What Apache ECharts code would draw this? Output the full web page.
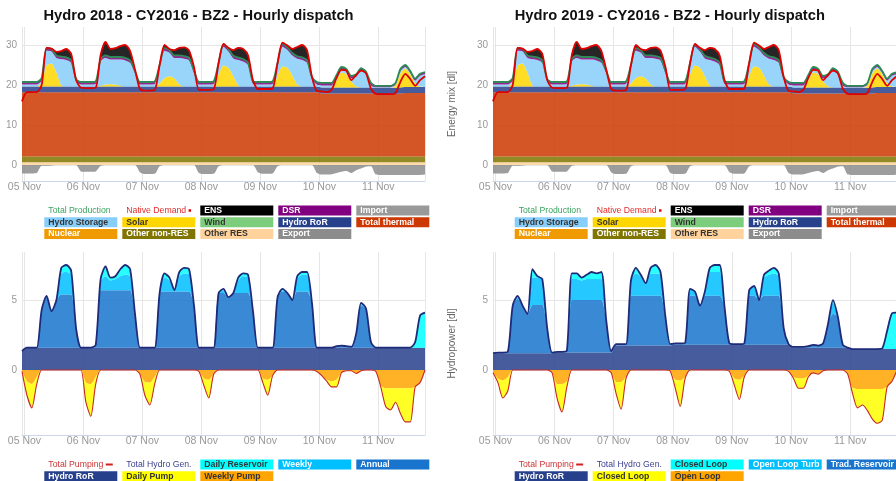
<!DOCTYPE html>
<html>
<head>
<meta charset="utf-8">
<script src="https://cdn.jsdelivr.net/npm/echarts@6/dist/echarts.min.js"></script>
<style>
  html, body { margin: 0; padding: 0; background: #ffffff; }
  #chart { width: 896px; height: 481px; }
</style>
</head>
<body>
<div id="chart"></div>
<script>
// ---------- time grid (hours from 05 Nov 00:00, two-hourly samples) ----------
const hours = [-1,1,3,5,7,9,11,13,15,17,19,21,23,
  25,27,29,31,33,35,37,39,41,43,45,47,
  49,51,53,55,57,59,61,63,65,67,69,71,
  73,75,77,79,81,83,85,87,89,91,93,95,
  97,99,101,103,105,107,109,111,113,115,117,119,
  121,123,125,127,129,131,133,135,137,139,141,143,
  145,147,149,151,153,155,157,159,161,163];

const dayLabels = ['05 Nov', '06 Nov', '07 Nov', '08 Nov', '09 Nov', '10 Nov', '11 Nov'];
const mixTicks = [0, 10, 20, 30];
const hydroTicks = [0, 5];

// ---------- energy mix (shared by both scenarios) ----------
const otherRes = [0.7,0.7,0.7,0.7,0.7,0.7,0.7,0.7,0.7,0.7,0.7,0.7,0.7,
  0.7,0.7,0.7,0.7,0.7,0.7,0.7,0.7,0.7,0.7,0.7,0.7,
  0.7,0.7,0.7,0.7,0.7,0.7,0.7,0.7,0.7,0.7,0.7,0.7,
  0.7,0.7,0.7,0.7,0.7,0.7,0.7,0.7,0.7,0.7,0.7,0.7,
  0.7,0.7,0.7,0.7,0.7,0.7,0.7,0.7,0.7,0.7,0.7,0.7,
  0.7,0.7,0.7,0.7,0.7,0.7,0.7,0.7,0.7,0.7,0.7,0.7,
  0.7,0.7,0.7,0.7,0.7,0.7,0.7,0.7,0.7,0.7];
const otherNonRes = [1.4,1.4,1.4,1.4,1.4,1.4,1.4,1.4,1.4,1.4,1.4,1.4,1.4,
  1.4,1.4,1.4,1.4,1.4,1.4,1.4,1.4,1.4,1.4,1.4,1.4,
  1.4,1.4,1.4,1.4,1.4,1.4,1.4,1.4,1.4,1.4,1.4,1.4,
  1.4,1.4,1.4,1.4,1.4,1.4,1.4,1.4,1.4,1.4,1.4,1.4,
  1.4,1.4,1.4,1.4,1.4,1.4,1.4,1.4,1.4,1.4,1.4,1.4,
  1.4,1.4,1.4,1.4,1.4,1.4,1.4,1.4,1.4,1.4,1.4,1.4,
  1.4,1.4,1.4,1.4,1.4,1.4,1.4,1.4,1.4,1.4];
const nuclear = [0,0,0,0,0,0,0,0,0,0,0,0,0,
  0,0,0,0,0,0,0,0,0,0,0,0,
  0,0,0,0,0,0,0,0,0,0,0,0,
  0,0,0,0,0,0,0,0,0,0,0,0,
  0,0,0,0,0,0,0,0,0,0,0,0,
  0,0,0,0,0,0,0,0,0,0,0,0,
  0,0,0,0,0,0,0,0,0,0];
const thermal = [16.1,16.1,16.1,16.1,16.1,16.1,16.1,16.1,16.1,16.1,16.1,16.1,16.1,
  16.1,16.1,16.1,16.1,16.1,16.1,16.1,16.1,16.1,16.1,16.1,16.1,
  16.1,16.1,16.1,16.1,16.1,16.1,16.1,16.1,16.1,16.1,16.1,16.1,
  16.1,16.1,16.1,16.1,16.1,16.1,16.1,16.1,16.1,16.1,16.1,16.1,
  16.1,16.1,16.1,16.1,16.1,16.1,16.1,16.1,16.1,16.1,16.1,16.1,
  15.8,15.8,15.8,15.8,15.8,15.8,15.8,15.8,15.8,15.8,15.8,15.65,
  15.65,15.65,15.65,15.7,15.8,15.9,15.9,15.9,15.9,15.9];
const rorMix = [1.4,1.4,1.4,1.4,1.4,1.4,1.4,1.4,1.4,1.4,1.4,1.4,1.4,
  1.4,1.4,1.4,1.4,1.4,1.4,1.4,1.4,1.4,1.4,1.4,1.4,
  1.4,1.4,1.4,1.4,1.4,1.4,1.4,1.4,1.4,1.4,1.4,1.4,
  1.4,1.4,1.4,1.4,1.4,1.4,1.4,1.4,1.4,1.4,1.4,1.4,
  1.4,1.4,1.4,1.4,1.4,1.4,1.4,1.4,1.4,1.4,1.4,1.4,
  1.5,1.5,1.5,1.5,1.5,1.5,1.5,1.5,1.5,1.5,1.5,1.5,
  1.5,1.5,1.5,1.5,1.5,1.5,1.5,1.5,1.5,1.5];
const wind = [0,0,0,0,0,0,0,0,0,0,0,0,0,
  0,0,0,0,0,0,0,0,0,0,0,0,
  0,0,0,0,0,0,0,0,0,0,0,0,
  0,0,0,0,0,0,0,0,0,0,0,0,
  0,0,0,0,0,0,0,0,0,0,0,0,
  0,0,0,0,0,0,0,0,0,0,0,0,
  0,0,0,0,0,0,0,0,0,0];
const solar = [0,0,0,0,1.0,5.3,5.8,3.5,0.3,0,0,0,0,
  0,0,0,0.2,0.5,0.6,0.5,0.2,0,0,0,0,
  0,0,0,0.8,2.1,2.6,2.0,0.5,0,0,0,0,
  0,0,0,3.0,5.3,4.7,2.6,0.3,0,0,0,0,
  0,0,0,2.65,5.0,4.7,2.8,0.5,0,0,0,0,
  0,0,0,1.7,3.7,3.3,1.5,0.3,0,0,0,0,
  0,0,0,0.6,3.5,4.6,3.2,1.0,0.1,0];
const hydroStorage = [0.5,0.5,0.5,0.5,0.5,3.65,2.95,3.65,6.55,6.65,5.95,1.25,0.5,
  0.5,0.5,0.65,6.05,6.65,6.15,6.25,6.55,6.55,5.95,3.25,0.5,
  0.5,0.5,0.65,3.95,6.85,5.85,5.15,6.65,6.95,6.55,3.35,0.5,
  0.5,0.5,0.65,2.25,4.65,4.05,4.45,6.35,6.25,5.35,0.65,0.5,
  0.5,0.5,0.65,2.6,4.95,4.45,4.95,6.45,6.65,5.95,1.75,0.5,
  0.5,0.5,0.5,0.75,0.75,0.65,0.75,2.35,4.15,3.25,0.5,0.2,
  0.2,0.2,0.2,0.2,0.6,0.4,0.3,0.6,2.7,3.2];
const imports = [0,0,0,0,0,0,0,0,0,0,0,0,0,
  0,0,0,0,0,0,0,0,0,0,0,0,
  0,0,0,0,0,0,0,0,0,0,0,0,
  0,0,0,0,0,0,0,0,0,0,0,0,
  0,0,0,0,0,0,0,0,0,0,0,0,
  0,0,0,0,0,0,0,0,0,0,0,0,
  0,0,0,0,0,0,0,0,0,0];
const dsr = [0.65,0.65,0.65,0.65,0.65,0.65,0.65,0.65,0.65,0.65,0.65,0.65,0.65,
  0.65,0.65,0.65,0.65,0.65,0.65,0.65,0.65,0.65,0.65,0.65,0.65,
  0.65,0.65,0.65,0.65,0.65,0.65,0.65,0.65,0.65,0.65,0.65,0.65,
  0.65,0.65,0.65,0.65,0.65,0.65,0.65,0.65,0.65,0.65,0.65,0.65,
  0.65,0.65,0.65,0.65,0.65,0.65,0.65,0.65,0.65,0.65,0.65,0.65,
  0.65,0.65,0.65,0.65,0.65,0.65,0.65,0.65,0.65,0.65,0.65,0.35,
  0.35,0.35,0.35,0.4,0.5,0.5,0.5,0.5,0.5,0.5];
const ens = [0,0,0,0,0,0,0,0.9,1.4,2.1,1.6,0,0,
  0,0,0,1.0,3.4,2.0,2.2,2.7,3.2,2.3,0.3,0,
  0,0,0,0,0.8,0.3,1.3,1.9,2.2,1.8,0.9,0,
  0,0,0,0,0.1,0.3,1.4,2.4,2.5,1.8,0.3,0,
  0,0,0,0,0.4,0.5,1.0,2.3,3.1,2.5,0,0,
  0,0,0,0,0,0,0,0,0,0,0,0,
  0,0,0,0,0,0,0,0,0,0];
const exports = [-2.1,-2.1,-2.1,-2.0,-0.2,-0.2,-0.1,0,0,0,0,0,-1.6,
  -1.7,-1.7,-1.6,-0.2,0,0,0,0,0,0,0,-1.8,
  -2.25,-2.25,-2.2,-0.3,0,0,0,0,0,0,0,-2.0,
  -2.25,-2.25,-2.2,-0.3,0,0,0,0,0,0,0,-1.8,
  -2.2,-2.2,-2.1,-0.3,0,0,0,0,0,0,0,-2.0,
  -2.4,-2.4,-2.3,-2.0,-1.7,-1.5,-2.0,-1.3,-0.9,-0.4,-0.3,-2.4,
  -2.5,-2.5,-2.5,-2.5,-2.5,-2.5,-2.5,-2.5,-2.5,-2.4];
const nativeDemand = [15.9,18.2,18.2,18.2,20.0,29.3,29.1,28.3,28.5,29.0,27.8,21.3,19.3,
  19.2,19.2,19.3,27.5,30.8,29.0,29.2,29.7,30.0,28.5,23.8,19.0,
  18.6,18.6,18.7,25.0,30.0,29.0,28.7,29.3,29.4,28.6,24.5,18.8,
  18.8,18.8,18.9,25.5,30.3,29.3,28.7,29.3,29.0,27.4,21.2,19.0,
  19.0,19.0,19.1,25.5,30.6,29.9,29.0,29.5,30.0,28.7,22.0,18.5,
  18.4,18.2,18.8,21.8,23.8,23.6,21.2,22.5,23.6,22.9,19.1,17.8,
  17.7,17.7,17.7,18.0,20.8,22.8,21.5,19.8,21.2,22.2];

// ---------- hydropower 2018 ----------
const ror2018 = [1.35,1.6,1.6,1.6,1.6,1.6,1.6,1.6,1.6,1.6,1.6,1.6,1.6,
  1.6,1.6,1.6,1.6,1.6,1.6,1.6,1.6,1.6,1.6,1.6,1.6,
  1.6,1.6,1.6,1.6,1.6,1.6,1.6,1.6,1.6,1.6,1.6,1.6,
  1.6,1.6,1.6,1.6,1.6,1.6,1.6,1.6,1.6,1.6,1.6,1.6,
  1.6,1.6,1.6,1.6,1.6,1.6,1.6,1.6,1.6,1.6,1.6,1.6,
  1.6,1.6,1.6,1.6,1.6,1.6,1.6,1.6,1.6,1.6,1.6,1.6,
  1.6,1.6,1.6,1.6,1.6,1.6,1.6,1.6,1.6,1.6];
const annual2018 = [0,0,0,0,2.7,3.6,2.6,3.4,3.8,3.8,3.8,1.4,0,
  0,0,0.2,4.1,4.1,4.1,4.1,4.1,4.1,4.1,2.4,0,
  0,0,0,3.9,4.0,4.0,4.0,4.0,4.0,4.0,3.0,0,
  0,0,0,3.9,3.9,3.6,3.9,3.9,3.9,3.9,2.6,0,
  0,0,0,3.6,4.0,3.9,3.4,4.0,4.0,4.0,3.2,0,
  0,0,0,0.1,0.15,0.1,0.05,1.0,3.0,2.8,0.4,0,
  0,0,0,0,0,0,0,0,0,0];
const weekly2018 = [0,0,0,0,0,0.1,0,0,1.5,1.6,1.4,0,0,
  0,0,0,0.6,1.0,0.7,0.8,1.0,1.1,1.0,0,0,
  0,0,0,0,1.0,0.8,0.1,1.1,1.3,1.3,0,0,
  0,0,0,0,0.2,0,0,0.9,1.2,1.1,0,0,
  0,0,0,0,0.1,0,0,0.9,1.2,1.2,0,0,
  0,0,0,0,0,0,0,0,0.1,0,0,0,
  0,0,0,0,0,0,0,0,0,0];
const dailyRes2018 = [0,0,0,0,0,0,0,0,0.4,0.5,0.3,0,0,
  0,0,0,0.2,0.7,0.2,0.2,0.5,0.7,0.5,0,0,
  0,0,0,0,0.3,0.2,0,0.3,0.4,0.3,0,0,
  0,0,0,0,0.1,0,0,0.2,0.2,0.2,0,0,
  0,0,0,0,0.1,0,0,0.2,0.2,0.2,0,0,
  0,0,0,0,0,0,0,0,0.1,0,0,0,
  0,0,0,0,0,0,0,0.4,2.3,2.5];
const weeklyPump2018 = [-0.1,-0.8,-1.0,-0.5,0,0,0,0,0,0,0,0,0,
  -0.9,-1.0,-0.5,0,0,0,0,0,0,0,0,-0.3,
  -0.85,-0.9,-0.5,0,0,0,0,0,0,0,0,-0.1,
  -0.6,-0.7,-0.3,0,0,0,0,0,0,0,0,0,
  -0.6,-0.7,-0.4,0,0,0,0,0,0,0,0,-0.1,
  -0.4,-0.7,-0.8,-0.7,-0.2,-0.05,-0.05,-0.25,-0.05,0,0,-0.1,
  -1.1,-1.3,-1.3,-1.3,-1.3,-1.3,-1.3,-1.2,-0.9,0];
const dailyPump2018 = [0,-1.0,-1.7,-0.5,0,0,0,0,0,0,0,0,0,
  -1.4,-2.3,-0.5,0,0,0,0,0,0,0,0,0,
  -0.95,-1.6,-0.5,0,0,0,0,0,0,0,0,0,
  -0.5,-1.3,0,0,0,0,0,0,0,0,0,0,
  -0.3,-1.1,0,0,0,0,0,0,0,0,0,0,
  0,-0.1,-0.4,-0.5,0,0,0,0,0,0,0,0,
  -0.1,-1.3,-1.55,-1.0,-1.8,-2.4,-2.4,0,0,0];

// ---------- hydropower 2019 ----------
const ror2019 = [1.2,1.2,1.2,1.2,1.2,1.2,1.2,1.2,1.2,1.2,1.2,1.2,1.2,
  1.25,1.25,1.25,1.25,1.25,1.25,1.25,1.25,1.25,1.25,1.25,1.25,
  1.75,1.75,1.75,1.75,1.75,1.75,1.75,1.75,1.75,1.75,1.75,1.75,
  1.8,1.8,1.8,1.8,1.8,1.8,1.8,1.8,1.8,1.8,1.8,1.8,
  1.8,1.8,1.8,1.8,1.8,1.8,1.8,1.8,1.8,1.8,1.8,1.8,
  1.6,1.6,1.6,1.6,1.6,1.6,1.6,1.6,1.6,1.6,1.6,1.6,
  1.5,1.5,1.5,1.5,1.5,1.5,1.5,1.5,1.5,1.5];
const tradRes2019 = [0,0.05,0.05,0.1,3.4,3.9,3.4,2.8,3.45,3.45,3.45,1.8,0.05,
  0.05,0.05,0.15,3.75,3.75,3.75,3.75,3.75,3.75,3.75,2.25,0.1,
  0.1,0.1,0.1,3.55,3.55,3.55,3.55,3.55,3.55,3.55,2.05,0.1,
  0.1,0.1,0.15,3.5,3.5,2.8,3.5,3.5,3.5,3.5,2.7,0.1,
  0.05,0.05,0.1,3.5,3.5,3.2,3.5,3.5,3.5,3.5,1.2,0.05,
  0.05,0.05,0.05,0.1,0.2,0.15,0.3,1.7,2.4,2.2,0.2,0,
  0,0,0,0,0,0,0.05,0,0,0];
const openTurb2019 = [0,0,0,0,0,0.2,0,0,1.95,1.95,1.85,0,0,
  0,0,0,1.5,1.5,1.4,1.5,1.5,1.5,1.5,0,0,
  0,0,0,1.1,1.6,1.4,0.9,1.6,1.6,1.5,0,0,
  0,0,0,0.5,0.3,0,0.3,1.7,1.7,1.7,0,0,
  0,0,0,0.4,0.7,0,1.3,1.5,1.6,1.4,0,0,
  0,0,0,0,0,0,0,0,0.8,0,0,0,
  0,0,0,0,0,0,0,0,0,0];
const closedTurb2019 = [0,0,0,0,0,0,0,0,0.6,0.1,0,0,0,
  0,0,0,0.4,0.4,0.2,0.3,0.5,0.4,0.5,0,0,
  0,0,0,0,0.4,0.1,0,0.4,0.6,0.2,0,0,
  0,0,0,0,0,0,0,0.3,0.5,0.5,0,0,
  0,0,0,0,0,0,0.2,0.3,0.4,0.2,0,0,
  0,0,0,0,0,0,0,0,0.2,0,0,0,
  0,0,0,0,0,0,0,1.3,2.55,2.6];
const openPump2019 = [-0.2,-0.6,-0.75,-0.5,0,0,0,0,0,0,0,0,-0.2,
  -1.0,-1.0,-0.8,0,0,0,0,0,0,0,0,-0.2,
  -0.85,-0.85,-0.5,0,0,0,0,0,0,0,0,-0.1,
  -0.7,-0.75,-0.5,0,0,0,0,0,0,0,0,-0.1,
  -0.6,-0.7,-0.4,0,0,0,0,0,0,0,0,-0.1,
  -0.5,-0.6,-0.6,-0.4,-0.2,-0.3,-0.05,0,0,0,0,-0.3,
  -1.3,-1.35,-1.35,-1.35,-1.35,-1.35,-1.35,-1.2,-0.8,0];
const closedPump2019 = [0,-0.3,-1.25,-1.0,0,0,0,0,0,0,0,0,0,
  -1.0,-2.0,-0.4,0,0,0,0,0,0,0,0,0,
  -0.85,-1.95,-0.1,0,0,0,0,0,0,0,0,0,
  -0.6,-1.85,-0.1,0,0,0,0,0,0,0,0,0,
  -0.5,-1.4,-0.1,0,0,0,0,0,0,0,0,0,
  -0.1,-0.7,-0.7,-0.1,0,0,0,0,0,0,0,0,
  -0.4,-1.35,-1.15,-1.55,-2.15,-2.45,-2.25,0,0,0];

// ---------- helpers ----------
const FONT = '"Liberation Sans", Arial, Helvetica, sans-serif';
const SMOOTH = 0.25;
const HOUR = 3600 * 1000;
const DAY = 24 * HOUR;
const START = Date.UTC(2016, 10, 5);           // 05 Nov 00:00
const toTime = h => START + h * HOUR;

function pairs(values) {
  return hours.map((h, i) => [toTime(h), values[i]]);
}
// Line totals are the sum of the stacked components at each sample.
function total(...parts) {
  return hours.map((h, i) => Math.round(parts.reduce((s, p) => s + p[i], 0) * 1000) / 1000);
}

function area(name, values, color, stack, gi) {
  return {
    name, type: 'line', xAxisIndex: gi, yAxisIndex: gi, stack,
    data: pairs(values), symbol: 'none', smooth: SMOOTH, silent: true,
    lineStyle: { width: 0, color }, itemStyle: { color },
    areaStyle: { color, opacity: 0.85 }, emphasis: { disabled: true }, z: 2
  };
}
function line(name, values, color, width, gi) {
  return {
    name, type: 'line', xAxisIndex: gi, yAxisIndex: gi,
    data: pairs(values), symbol: 'none', smooth: SMOOTH, silent: true,
    lineStyle: { color, width }, itemStyle: { color }, emphasis: { disabled: true }, z: 3
  };
}

function mixSeries(gi) {
  const s = 'mix' + gi, n = 'mixneg' + gi;
  return [
    area('Other RES', otherRes, '#ffd39b', s, gi),
    area('Other non-RES', otherNonRes, '#807500', s, gi),
    area('Nuclear', nuclear, '#ee9a00', s, gi),
    area('Total thermal', thermal, '#cd3700', s, gi),
    area('Hydro RoR', rorMix, '#27408b', s, gi),
    area('Wind', wind, '#7ccd7c', s, gi),
    area('Solar', solar, '#ffd700', s, gi),
    area('Hydro Storage', hydroStorage, '#87cefa', s, gi),
    area('Import', imports, '#999999', s, gi),
    area('DSR', dsr, '#800080', s, gi),
    area('ENS', ens, '#000000', s, gi),
    area('Export', exports, '#8c8c8c', n, gi),
    line('Total Production', total(otherRes, otherNonRes, nuclear, thermal, rorMix, wind, solar, hydroStorage, imports, dsr), '#2e8b57', 1.8, gi),
    line('Native Demand', nativeDemand, '#e00000', 1.8, gi)
  ];
}

function hydroSeries(gi, ror, base, mid, top, pumpNear, pumpFar, names) {
  const s = 'hyd' + gi, n = 'hydneg' + gi;
  return [
    area('Hydro RoR', ror, '#27408b', s, gi),
    area(names[0], base, '#1874cd', s, gi),
    area(names[1], mid, '#00bfff', s, gi),
    area(names[2], top, '#00ffff', s, gi),
    area(names[3], pumpNear, '#ffa500', n, gi),
    area(names[4], pumpFar, '#ffff00', n, gi),
    line('Total Hydro Gen.', total(ror, base, mid, top), '#1f2a78', 1.8, gi),
    line('Total Pumping', total(pumpNear, pumpFar), '#c62828', 1.1, gi)
  ];
}

function dayLabel(v) {
  const off = +v - START;
  if (off % DAY !== 0) return '';
  return dayLabels[off / DAY] || '';
}
function xAxisFor(gi) {
  return {
    type: 'time', gridIndex: gi, min: toTime(-1), max: toTime(163),
    minInterval: DAY, maxInterval: DAY, splitNumber: 7,
    axisLine: { show: true, onZero: false, lineStyle: { color: '#ccd6eb', width: 1 } },
    axisTick: { show: false },
    axisLabel: { color: '#999999', fontSize: 10.5, margin: 1, fontFamily: FONT, formatter: dayLabel,
      showMinLabel: false, showMaxLabel: false },
    splitLine: { show: true, lineStyle: { color: '#e6e6e6', width: 1 } }
  };
}
function yAxisFor(gi, min, max, ticks, name) {
  return {
    type: 'value', gridIndex: gi, min, max, name, nameLocation: 'middle', nameGap: 36,
    nameTextStyle: { color: '#666666', fontSize: 10, fontFamily: FONT },
    axisLine: { show: false },
    axisTick: { show: false, customValues: ticks },
    axisLabel: { customValues: ticks, color: '#999999', fontSize: 10, margin: 5, fontFamily: FONT },
    splitLine: { show: true, lineStyle: { color: '#e6e6e6', width: 1 } }
  };
}

// Legend rows: [name, box colour (null = plain text), text colour]
const MARKERS = { 'Native Demand': '{dot|}', 'Total Pumping': '{dash|}' };
function legendRow(left, top, items) {
  return {
    left, top, orient: 'horizontal', padding: 0, itemGap: 0, itemWidth: 0, itemHeight: 10,
    width: 440, selectedMode: false,
    formatter: name => MARKERS[name] ? name + ' ' + MARKERS[name] : name,
    textStyle: {
      fontFamily: FONT, fontSize: 8.7, lineHeight: 10,
      rich: {
        dot: { width: 2.5, height: 2.5, backgroundColor: '#e00000' },
        dash: { width: 7, height: 2, backgroundColor: '#d02020' }
      }
    },
    data: items.map(([name, bg, fg]) => ({
      name, icon: 'none',
      textStyle: bg
        ? { backgroundColor: bg, color: fg, fontWeight: 'bold', width: 69, height: 10, lineHeight: 10, padding: [0, 0, 0, 4], overflow: 'break' }
        : { color: fg, width: 69, height: 10, lineHeight: 10, padding: [0, 0, 0, 4] }
    }))
  };
}
const mixLegend = [
  [['Total Production', null, '#3aa35f'], ['Native Demand', null, '#e22b2b'], ['ENS', '#000000', '#ffffff'], ['DSR', '#800080', '#ffffff'], ['Import', '#999999', '#ffffff']],
  [['Hydro Storage', '#87cefa', '#333333'], ['Solar', '#ffd700', '#333333'], ['Wind', '#7ccd7c', '#333333'], ['Hydro RoR', '#27408b', '#ffffff'], ['Total thermal', '#cd3700', '#ffffff']],
  [['Nuclear', '#ee9a00', '#ffffff'], ['Other non-RES', '#807500', '#ffffff'], ['Other RES', '#ffd39b', '#333333'], ['Export', '#8c8c8c', '#ffffff']]
];
const hydroLegend2018 = [
  [['Total Pumping', null, '#cc3333'], ['Total Hydro Gen.', null, '#3a3f8f'], ['Daily Reservoir', '#00ffff', '#333333'], ['Weekly', '#00bfff', '#ffffff'], ['Annual', '#1874cd', '#ffffff']],
  [['Hydro RoR', '#27408b', '#ffffff'], ['Daily Pump', '#ffff00', '#333333'], ['Weekly Pump', '#ffa500', '#333333']]
];
const hydroLegend2019 = [
  [['Total Pumping', null, '#cc3333'], ['Total Hydro Gen.', null, '#3a3f8f'], ['Closed Loop Turb', '#00ffff', '#333333'], ['Open Loop Turb', '#00bfff', '#ffffff'], ['Trad. Reservoir', '#1874cd', '#ffffff']],
  [['Hydro RoR', '#27408b', '#ffffff'], ['Closed Loop Pump', '#ffff00', '#333333'], ['Open Loop Pump', '#ffa500', '#333333']]
];

const LEFT_A = 39.3, LEFT_B = 509.7;
const titleStyle = { fontSize: 14.7, fontWeight: 'bold', color: '#111111', fontFamily: FONT, lineHeight: 16 };

const option = {
  animation: false,
  useUTC: true,
  backgroundColor: '#ffffff',
  title: [
    { text: 'Hydro 2018 - CY2016 - BZ2 - Hourly dispatch', left: 198.5, top: 7.5, textAlign: 'center', padding: 0, textStyle: titleStyle },
    { text: 'Hydro 2019 - CY2016 - BZ2 - Hourly dispatch', left: 669.8, top: 7.5, textAlign: 'center', padding: 0, textStyle: titleStyle }
  ],
  grid: [
    { left: 22, top: 27, width: 403, height: 154, outerBoundsMode: 'none' },
    { left: 493, top: 27, width: 404, height: 154, outerBoundsMode: 'none' },
    { left: 22, top: 252, width: 403, height: 183, outerBoundsMode: 'none' },
    { left: 493, top: 252, width: 404, height: 183, outerBoundsMode: 'none' }
  ],
  xAxis: [xAxisFor(0), xAxisFor(1), xAxisFor(2), xAxisFor(3)],
  yAxis: [
    yAxisFor(0, -4, 34.5, mixTicks, 'Energy mix [dl]'),
    yAxisFor(1, -4, 34.5, mixTicks, 'Energy mix [dl]'),
    yAxisFor(2, -4.64, 8.43, hydroTicks, 'Hydropower [dl]'),
    yAxisFor(3, -4.64, 8.43, hydroTicks, 'Hydropower [dl]')
  ],
  legend: [
    legendRow(LEFT_A, 205.5, mixLegend[0]),
    legendRow(LEFT_A, 217.3, mixLegend[1]),
    legendRow(LEFT_A, 229, mixLegend[2]),
    legendRow(LEFT_B, 205.5, mixLegend[0]),
    legendRow(LEFT_B, 217.3, mixLegend[1]),
    legendRow(LEFT_B, 229, mixLegend[2]),
    legendRow(LEFT_A, 459.5, hydroLegend2018[0]),
    legendRow(LEFT_A, 471.2, hydroLegend2018[1]),
    legendRow(LEFT_B, 459.5, hydroLegend2019[0]),
    legendRow(LEFT_B, 471.2, hydroLegend2019[1])
  ],
  series: [
    ...mixSeries(0),
    ...mixSeries(1),
    ...hydroSeries(2, ror2018, annual2018, weekly2018, dailyRes2018, weeklyPump2018, dailyPump2018,
      ['Annual', 'Weekly', 'Daily Reservoir', 'Weekly Pump', 'Daily Pump']),
    ...hydroSeries(3, ror2019, tradRes2019, openTurb2019, closedTurb2019, openPump2019, closedPump2019,
      ['Trad. Reservoir', 'Open Loop Turb', 'Closed Loop Turb', 'Open Loop Pump', 'Closed Loop Pump'])
  ]
};

const chart = echarts.init(document.getElementById('chart'), null, { renderer: 'canvas' });
chart.setOption(option);
</script>
</body>
</html>
